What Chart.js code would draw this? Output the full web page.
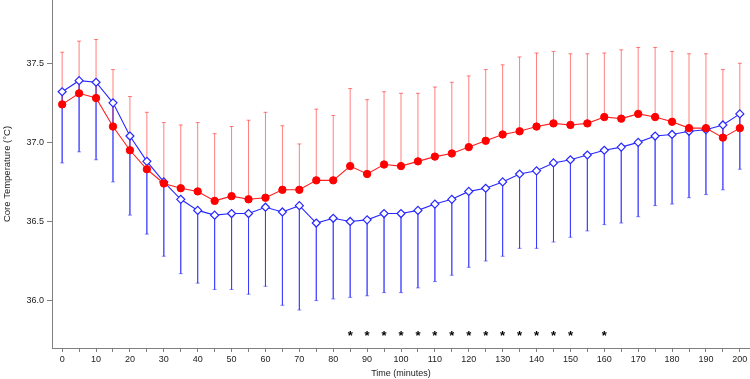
<!DOCTYPE html>
<html>
<head>
<meta charset="utf-8">
<script src="https://cdn.jsdelivr.net/npm/chart.js@4.4.1/dist/chart.umd.min.js"></script>
<style>
  html, body { margin: 0; padding: 0; background: #ffffff; }
  #wrap { width: 750px; height: 379px; position: relative; }
</style>
</head>
<body>
<div id="wrap"><canvas id="c" width="750" height="379"></canvas></div>
<script>
// ---- Data ----
const times = [0,5,10,15,20,25,30,35,40,45,50,55,60,65,70,75,80,85,90,95,100,105,110,115,120,125,130,135,140,145,150,155,160,165,170,175,180,185,190,195,200];

const redMean = [37.24,37.31,37.28,37.10,36.95,36.83,36.74,36.71,36.69,36.63,36.66,36.64,36.65,36.70,36.70,36.76,36.76,36.85,36.80,36.86,36.85,36.88,36.91,36.93,36.97,37.01,37.05,37.07,37.10,37.12,37.11,37.12,37.16,37.15,37.18,37.16,37.13,37.09,37.09,37.03,37.09];
const redUpper = [37.57,37.64,37.65,37.46,37.29,37.19,37.125,37.11,37.125,37.055,37.10,37.14,37.19,37.105,36.99,37.21,37.17,37.34,37.27,37.32,37.31,37.31,37.35,37.38,37.42,37.46,37.49,37.54,37.565,37.575,37.56,37.56,37.565,37.585,37.60,37.60,37.575,37.56,37.56,37.46,37.50];

const blueMean = [37.32,37.39,37.38,37.25,37.04,36.88,36.75,36.64,36.57,36.54,36.55,36.55,36.59,36.56,36.60,36.49,36.52,36.50,36.51,36.55,36.55,36.57,36.61,36.64,36.69,36.71,36.75,36.80,36.82,36.87,36.89,36.92,36.95,36.97,37.00,37.04,37.05,37.07,37.08,37.11,37.18];
const blueLower = [36.87,36.94,36.89,36.75,36.54,36.42,36.28,36.17,36.11,36.07,36.07,36.04,36.09,35.97,35.94,36.00,36.01,36.02,36.03,36.05,36.05,36.08,36.12,36.16,36.21,36.25,36.28,36.33,36.33,36.37,36.40,36.44,36.48,36.49,36.53,36.60,36.61,36.65,36.67,36.70,36.83];

const sigTimes = [85,90,95,100,105,110,115,120,125,130,135,140,145,150,160];
const sigLevel = 35.80;
const sigLabel = '*';

const yTicks = [36.0, 36.5, 37.0, 37.5];
const xTicks = times.slice();
const xLabelStep = 10;
const xTitle = 'Time (minutes)';
const yTitle = 'Core Temperature (\u00B0C)';

// ---- Build datasets from the arrays ----
function pts(xs, ys) { return xs.map((t, i) => ({ x: t, y: ys[i] })); }
function errSegments(xs, from, to) {
  const out = [];
  xs.forEach((t, i) => {
    out.push({ x: t, y: from[i] });
    out.push({ x: t, y: to[i] });
    out.push({ x: t, y: null });
  });
  return out;
}

const FONT = "'Liberation Sans', Arial, sans-serif";
const AXIS = '#7f7f7f';
const RED = 'rgb(255,0,0)';
const BLUE = 'rgb(40,40,255)';

const sigPlugin = {
  id: 'sigMarks',
  afterDatasetsDraw(chart) {
    const { ctx, scales: { x, y } } = chart;
    ctx.save();
    ctx.fillStyle = '#000';
    ctx.font = 'bold 13px ' + FONT;
    ctx.textAlign = 'center';
    ctx.textBaseline = 'alphabetic';
    sigTimes.forEach(t => {
      ctx.fillText(sigLabel, x.getPixelForValue(t), y.getPixelForValue(sigLevel) + 7.5);
    });
    ctx.restore();
  }
};

new Chart(document.getElementById('c'), {
  type: 'scatter',
  data: {
    datasets: [
      {
        label: 'red',
        data: pts(times, redMean),
        showLine: true,
        borderColor: 'rgb(255,30,30)',
        borderWidth: 1.1,
        pointStyle: 'circle',
        pointRadius: 3.7,
        pointBorderWidth: 1,
        pointBackgroundColor: RED,
        pointBorderColor: RED
      },
      {
        label: 'blue',
        data: pts(times, blueMean),
        showLine: true,
        borderColor: BLUE,
        borderWidth: 1.1,
        pointStyle: 'rectRot',
        pointRadius: 4,
        pointBorderWidth: 1.2,
        pointBackgroundColor: '#ffffff',
        pointBorderColor: BLUE
      },
      {
        label: 'redErr',
        data: errSegments(times, redMean, redUpper),
        showLine: true,
        spanGaps: false,
        borderColor: 'rgba(255,0,0,0.5)',
        borderWidth: 1,
        pointRadius: 0
      },
      {
        label: 'blueErr',
        data: errSegments(times, blueMean, blueLower),
        showLine: true,
        spanGaps: false,
        borderColor: 'rgba(30,30,255,0.5)',
        borderWidth: 1,
        pointRadius: 0
      },
      {
        label: 'redCaps',
        data: pts(times, redUpper),
        showLine: false,
        pointStyle: 'line',
        pointRadius: 2,
        pointBorderWidth: 1,
        pointBorderColor: 'rgba(255,0,0,0.5)'
      },
      {
        label: 'blueCaps',
        data: pts(times, blueLower),
        showLine: false,
        pointStyle: 'line',
        pointRadius: 2,
        pointBorderWidth: 1,
        pointBorderColor: 'rgba(30,30,255,0.5)'
      }
    ]
  },
  options: {
    responsive: false,
    animation: false,
    events: [],
    layout: { padding: 0, autoPadding: false },
    plugins: { legend: { display: false }, tooltip: { enabled: false } },
    scales: {
      x: {
        type: 'linear',
        min: -3,
        max: 203,
        afterBuildTicks(s) { s.ticks = xTicks.map(v => ({ value: v })); },
        afterFit(s) { s.height = 31; s.paddingLeft = 0; s.paddingRight = 0; },
        ticks: {
          autoSkip: false,
          maxRotation: 0,
          padding: 2,
          color: '#222',
          font: { family: FONT, size: 9 },
          callback: (v) => (v % xLabelStep === 0 ? String(v) : '')
        },
        grid: { drawOnChartArea: false, drawTicks: true, tickLength: 4, tickColor: AXIS, tickWidth: 1 },
        border: { display: true, color: AXIS, width: 1 },
        title: { display: true, text: xTitle, color: '#222', font: { family: FONT, size: 9 }, padding: { top: 0, bottom: 0 } }
      },
      y: {
        type: 'linear',
        min: 35.7,
        max: 37.9,
        afterBuildTicks(s) { s.ticks = yTicks.map(v => ({ value: v })); },
        afterFit(s) { s.width = 52; s.paddingTop = 0; s.paddingBottom = 0; },
        ticks: {
          padding: 3,
          color: '#222',
          font: { family: FONT, size: 9 },
          callback: (v) => Number(v).toFixed(1)
        },
        grid: { drawOnChartArea: false, drawTicks: true, tickLength: 5, tickColor: AXIS, tickWidth: 1 },
        border: { display: true, color: AXIS, width: 1 },
        title: { display: true, text: yTitle, color: '#222', font: { family: FONT, size: 9.5 }, padding: { top: 2, bottom: 0 } }
      }
    }
  },
  plugins: [sigPlugin]
});
</script>
</body>
</html>
